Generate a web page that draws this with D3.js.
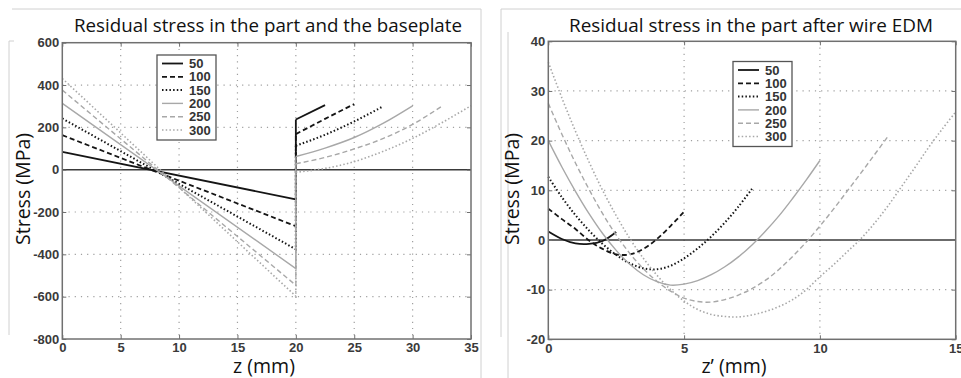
<!DOCTYPE html>
<html>
<head>
<meta charset="utf-8">
<script src="https://cdn.jsdelivr.net/npm/d3@7"></script>
<style>
  body { margin: 0; background: #fff; }
  svg { display: block; }
</style>
</head>
<body>
<script>
// legend labels (same for both panels)
const seriesNames = ["50", "100", "150", "200", "250", "300"];

// left panel: stress in the part, linear from z=0 to z=20
const partStart = [84, 163, 242, 313, 376, 431];
const partEnd = [-140, -267, -376, -467, -546, -598];

// left panel: baseplate, read every 2.5 mm from z=20
const baseZ = [20, 22.5, 25, 27.5, 30, 32.5, 35];
const baseStress = [
  [237, 305],
  [168, 240, 310],
  [113, 165, 228, 300],
  [62, 102, 152, 220, 302],
  [28, 58, 98, 148, 214, 300],
  [-12, 6, 38, 87, 148, 222, 302]
];

// right panel: after wire EDM, read every 0.5 mm
const zPrime = d3.range(0, 15.01, 0.5);
const edmStress = [
  [1.7, 0.2, -0.7, -0.8, -0.2, 1.6],
  [6.3, 4.2, 2.2, -0.1, -1.8, -2.9, -2.9, -1.8, 0.2, 2.8, 5.7],
  [12.7, 8.6, 5.0, 1.9, -0.8, -3.0, -4.7, -5.7, -5.9, -5.2, -3.7, -1.7, 0.7, 3.5, 6.7, 10.3],
  [20, 14.7, 9.8, 5.3, 1.3, -2.1, -4.9, -7.0, -8.4, -9.1, -8.9, -8.2, -7.0, -5.4, -3.4, -1.0, 1.8, 4.9, 8.4, 12.1, 16.0],
  [27.5, 21.3, 15.5, 10.2, 5.3, 1.0, -2.7, -5.8, -8.3, -10.3, -11.7, -12.4, -12.5, -12.0, -11.1, -9.8, -8.1, -5.9, -3.3, -0.4, 2.8, 6.2, 9.8, 13.4, 17.1, 20.8],
  [35.8, 28.6, 21.9, 15.7, 10.0, 4.9, 0.3, -3.7, -7.1, -10.0, -12.3, -14.0, -15.0, -15.4, -15.5, -15.1, -14.4, -13.4, -12.0, -10.0, -7.4, -5.0, -2.4, 0.2, 3.3, 6.8, 10.7, 14.6, 18.6, 22.3, 25.8]
];

const leftXTicks = [0, 5, 10, 15, 20, 25, 30, 35];
const leftYTicks = [600, 400, 200, 0, -200, -400, -600, -800];
const rightXTicks = [0, 5, 10, 15];
const rightYTicks = [40, 30, 20, 10, 0, -10, -20];

const styles = [
  { color: "#151515", dash: null, w: 1.8 },
  { color: "#151515", dash: "5,3", w: 1.8 },
  { color: "#151515", dash: "1.5,2.2", w: 2 },
  { color: "#a8a8a8", dash: null, w: 1.4 },
  { color: "#a8a8a8", dash: "5,3", w: 1.4 },
  { color: "#a8a8a8", dash: "1.5,2.2", w: 1.6 }
];

const svg = d3.select("body").append("svg").attr("width", 961).attr("height", 378);

// slide frame remains
const frameLines = [
  [12, 9, 481, 9], [481, 9, 481, 378], [501, 9, 961, 9], [501, 9, 501, 337],
  [508, 32, 508, 378], [9, 41, 9, 335], [9, 41, 14, 41]
];
svg.selectAll("line.frame").data(frameLines).enter().append("line")
  .attr("x1", d => d[0]).attr("y1", d => d[1]).attr("x2", d => d[2]).attr("y2", d => d[3])
  .attr("stroke", "#d0d0d0").attr("stroke-width", 1);

function panel(cfg) {
  const x = d3.scaleLinear().domain(cfg.xDomain).range(cfg.xRange);
  const y = d3.scaleLinear().domain(cfg.yDomain).range(cfg.yRange);
  const g = svg.append("g");
  const [x0, x1] = cfg.xRange, [y1, y0] = cfg.yRange;

  // grid
  g.selectAll("line.gx").data(cfg.xTicks.slice(1, -1)).enter().append("line")
    .attr("x1", d => x(d)).attr("x2", d => x(d)).attr("y1", y0).attr("y2", y1)
    .attr("stroke", "#a0a0a0").attr("stroke-width", 1.2).attr("stroke-dasharray", "1.2,5");
  g.selectAll("line.gy").data(cfg.yTicks.filter(v => v !== 0 && v !== cfg.yDomain[0] && v !== cfg.yDomain[1])).enter().append("line")
    .attr("y1", d => y(d)).attr("y2", d => y(d)).attr("x1", x0).attr("x2", x1)
    .attr("stroke", "#a0a0a0").attr("stroke-width", 1.2).attr("stroke-dasharray", "1.2,5");

  // zero line
  g.append("line").attr("x1", x0).attr("x2", x1).attr("y1", y(0)).attr("y2", y(0))
    .attr("stroke", "#3a3a3a").attr("stroke-width", 1.6);

  cfg.drawSeries(g, x, y);

  // frame
  g.append("rect").attr("x", x0).attr("y", y0).attr("width", x1 - x0).attr("height", y1 - y0)
    .attr("fill", "none").attr("stroke", "#707070").attr("stroke-width", 1.5);

  const tickFont = sel => sel.selectAll("text")
    .attr("font-family", "Liberation Sans, Arial, sans-serif").attr("font-size", 13)
    .attr("font-weight", "bold").attr("fill", "#3a3a3a");
  const plain = d => String(d);

  const ax = g.append("g").attr("transform", `translate(0,${y1})`)
    .call(d3.axisBottom(x).tickValues(cfg.xTicks).tickFormat(plain).tickSizeInner(-4).tickSizeOuter(0).tickPadding(4));
  const ay = g.append("g").attr("transform", `translate(${x0},0)`)
    .call(d3.axisLeft(y).tickValues(cfg.yTicks).tickFormat(plain).tickSizeInner(-4).tickSizeOuter(0).tickPadding(3));
  g.append("g").attr("transform", `translate(${x1},0)`)
    .call(d3.axisRight(y).tickValues(cfg.yTicks).tickSizeInner(-4).tickSizeOuter(0).tickFormat(""));
  g.append("g").attr("transform", `translate(0,${y0})`)
    .call(d3.axisTop(x).tickValues(cfg.xTicks).tickSizeInner(-4).tickSizeOuter(0).tickFormat(""));
  [ax, ay].forEach(tickFont);
  g.selectAll(".domain").remove();
  g.selectAll(".tick line").attr("stroke", "#707070");

  // legend
  const lg = g.append("g").attr("transform", `translate(${cfg.legend[0]},${cfg.legend[1]})`);
  lg.append("rect").attr("width", 59).attr("height", 85)
    .attr("fill", "#fff").attr("stroke", "#555").attr("stroke-width", 1.3);
  seriesNames.forEach((name, i) => {
    const ry = 8.5 + i * 13.3;
    lg.append("line").attr("x1", 5).attr("x2", 26).attr("y1", ry).attr("y2", ry)
      .attr("stroke", styles[i].color).attr("stroke-width", styles[i].w)
      .attr("stroke-dasharray", styles[i].dash);
    lg.append("text").attr("x", 32).attr("y", ry).attr("dy", "0.36em")
      .attr("font-family", "Liberation Sans, Arial, sans-serif").attr("font-size", 13)
      .attr("font-weight", "bold").attr("fill", "#333").text(name);
  });

  // titles
  svg.append("text").attr("x", cfg.title[1]).attr("y", 31.5).attr("text-anchor", "middle")
    .attr("font-family", "Open Sans, sans-serif").attr("font-size", 19).attr("fill", "#111")
    .attr("textLength", cfg.title[2]).attr("lengthAdjust", "spacingAndGlyphs").text(cfg.title[0]);
  svg.append("text").attr("x", cfg.xLabel[1]).attr("y", 373).attr("text-anchor", "middle")
    .attr("font-family", "Open Sans, sans-serif").attr("font-size", 19.5).attr("fill", "#111")
    .text(cfg.xLabel[0]);
  svg.append("text").attr("transform", `translate(${cfg.yLabelX},189) rotate(-90)`)
    .attr("text-anchor", "middle")
    .attr("font-family", "Open Sans, sans-serif").attr("font-size", 20).attr("fill", "#111")
    .attr("textLength", 112).attr("lengthAdjust", "spacingAndGlyphs").text("Stress (MPa)");
}

panel({
  xDomain: [0, 35], xRange: [62.3, 471], yDomain: [-800, 600], yRange: [339, 42.7],
  xTicks: leftXTicks, yTicks: leftYTicks, legend: [157, 55],
  title: ["Residual stress in the part and the baseplate", 268, 388],
  xLabel: ["z (mm)", 264], yLabelX: 30,
  drawSeries(g, x, y) {
    seriesNames.forEach((name, i) => {
      const base = baseStress[i].map((s, k) => [baseZ[k], s]);
      const part = [[0, partStart[i]], [20, partEnd[i]], base[0]];
      const st = styles[i];
      g.append("path").attr("d", d3.line().x(d => x(d[0])).y(d => y(d[1]))(part))
        .attr("fill", "none").attr("stroke", st.color).attr("stroke-width", st.w)
        .attr("stroke-dasharray", st.dash);
      g.append("path").attr("d", d3.line().x(d => x(d[0])).y(d => y(d[1])).curve(d3.curveMonotoneX)(base))
        .attr("fill", "none").attr("stroke", st.color).attr("stroke-width", st.w)
        .attr("stroke-dasharray", st.dash);
    });
  }
});

panel({
  xDomain: [0, 15], xRange: [548.3, 955.7], yDomain: [-20, 40], yRange: [339.3, 41.3],
  xTicks: rightXTicks, yTicks: rightYTicks, legend: [733, 61.5],
  title: ["Residual stress in the part after wire EDM", 751, 364],
  xLabel: ["z\u2019 (mm)", 734], yLabelX: 519,
  drawSeries(g, x, y) {
    seriesNames.forEach((name, i) => {
      const pts = edmStress[i].map((s, k) => [zPrime[k], s]);
      const st = styles[i];
      g.append("path").attr("d", d3.line().x(d => x(d[0])).y(d => y(d[1])).curve(d3.curveCatmullRom)(pts))
        .attr("fill", "none").attr("stroke", st.color).attr("stroke-width", st.w)
        .attr("stroke-dasharray", st.dash);
    });
  }
});
</script>
</body>
</html>
